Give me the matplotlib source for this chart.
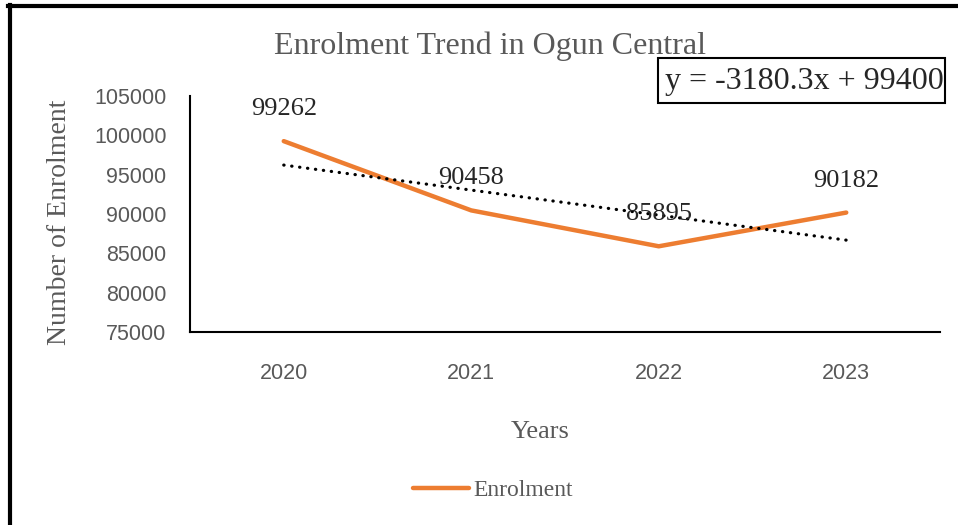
import matplotlib.pyplot as plt
from matplotlib.lines import Line2D
from matplotlib.patches import Rectangle
import numpy as np

# data
years = ["2020", "2021", "2022", "2023"]
enrolment = [99262, 90458, 85895, 90182]
trend_slope, trend_intercept = -3180.3, 99400
y_ticks = [75000, 80000, 85000, 90000, 95000, 100000, 105000]

orange = '#ED7D31'
grey = '#595959'
serif = ['Liberation Serif', 'DejaVu Serif']
sans = ['Liberation Sans', 'DejaVu Sans']

fig = plt.figure(figsize=(9.58, 5.25), dpi=100)
ax = fig.add_axes([190/958, 1 - 332/525, (940-190)/958, (332-96)/525])

x = np.arange(len(years))
ax.plot(x, enrolment, color=orange, linewidth=3.2, solid_capstyle='round',
        solid_joinstyle='round', label='Enrolment', zorder=3)

# linear trendline (Excel style, x = 1..n)
trend = [trend_slope * (i + 1) + trend_intercept for i in x]
ax.plot(x, trend, color='black', linewidth=2.3, linestyle=(0, (0.1, 2.4)),
        dash_capstyle='round', zorder=4)

for xi, v in zip(x, enrolment):
    ax.annotate(str(v), (xi, v), xytext=(0, 23), textcoords='offset points',
                ha='center', va='center', fontsize=19, color='#262626',
                family=serif, zorder=5)

ax.set_xlim(-0.5, 3.5)
ax.set_ylim(75000, 105000)
ax.set_xticks(x)
ax.set_xticklabels(years)
ax.set_yticks(y_ticks)
ax.tick_params(axis='both', length=0, labelsize=15.5, labelcolor=grey)
ax.tick_params(axis='x', pad=22)
ax.tick_params(axis='y', pad=17)
for lab in ax.get_xticklabels() + ax.get_yticklabels():
    lab.set_family(sans)

for s in ['top', 'right']:
    ax.spines[s].set_visible(False)
for s in ['left', 'bottom']:
    ax.spines[s].set_linewidth(1.5)
    ax.spines[s].set_color('black')

fig.text(490/958, 1 - 46/525, "Enrolment Trend in Ogun Central", ha='center',
         va='center', fontsize=23, color=grey, family=serif)
fig.text(540/958, 1 - 432/525, "Years", ha='center', va='center',
         fontsize=19, color=grey, family=serif)
fig.text(59/958, 1 - 222/525, "Number of Enrolment", ha='center', va='center',
         rotation=90, fontsize=20, color=grey, family=serif)

# trendline equation box
fig.add_artist(Rectangle((658/958, 1 - 103/525), (945-658)/958, 45/525,
                         transform=fig.transFigure, facecolor='white',
                         edgecolor='black', linewidth=1.5))
fig.text(804/958, 1 - 81/525, "y = -3180.3x + 99400", ha='center', va='center',
         fontsize=23, color='#262626', family=serif)

fig.legend(handles=[Line2D([0], [0], color=orange, linewidth=3.2,
                           solid_capstyle='round')],
           labels=['Enrolment'], loc='center', bbox_to_anchor=(493/958, 1 - 490/525),
           frameon=False, handlelength=2.35, handletextpad=0.2,
           prop={'family': serif, 'size': 17}, labelcolor=grey)

# outer border (left and top edges visible)
fig.add_artist(Line2D([10/958, 10/958], [0, 1 - 5/525], color='black',
                      linewidth=3, transform=fig.transFigure))
fig.add_artist(Line2D([8/958, 1], [1 - 6/525, 1 - 6/525], color='black',
                      linewidth=3, transform=fig.transFigure))

fig.savefig('out.png', dpi=100)
